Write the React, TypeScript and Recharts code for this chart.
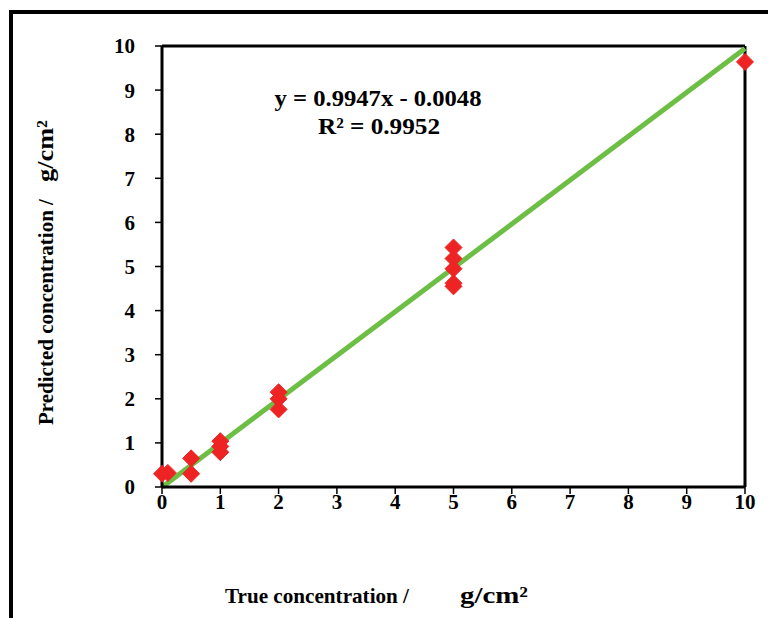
import React from 'react';
import { ComposedChart, Scatter, Line, XAxis, YAxis, ReferenceLine } from 'recharts';

const trueConc = [0, 0.1, 0.5, 0.5, 1, 1, 1, 2, 2, 2, 5, 5, 5, 5, 5, 10];
const predConc = [0.3, 0.32, 0.65, 0.3, 1.04, 0.92, 0.79, 2.15, 2.0, 1.76, 5.43, 5.18, 4.95, 4.62, 4.55, 9.64];
const fitX = [0.0048, 10];
const fitY = [0, 9.9422];
const axisTicks = [0, 1, 2, 3, 4, 5, 6, 7, 8, 9, 10];
const equationText = 'y = 0.9947x - 0.0048';
const r2Text = 'R² = 0.9952';
const xTitleMain = 'True concentration /';
const yTitleMain = 'Predicted concentration /';
const unitText = 'g/cm²';

const points = trueConc.map((x, i) => ({ x, y: predConc[i] }));
const fitLine = fitX.map((x, i) => ({ x, y: fitY[i] }));

const FONT = '"Liberation Serif", "DejaVu Serif", serif';

const Diamond = (props: any) => {
  const { cx, cy } = props;
  const r = 8.5;
  return (
    <polygon
      points={`${cx},${cy - r} ${cx + r},${cy} ${cx},${cy + r} ${cx - r},${cy}`}
      fill="#EE2424"
      stroke="#EE2424"
      strokeWidth={1}
      strokeLinejoin="round"
    />
  );
};

const tickStyle = { fill: '#000', fontSize: 21, fontWeight: 'bold', fontFamily: FONT };
const titleProps = { fontFamily: FONT, fontWeight: 'bold' as const, fontSize: 22, fill: '#000' };

export default function App() {
  return (
    <div style={{ position: 'absolute', left: 0, top: 0, width: 768, height: 618, background: '#fff', overflow: 'hidden' }}>
      <div
        style={{
          position: 'absolute',
          left: 9,
          top: 10,
          width: 768,
          height: 618,
          borderLeft: '4px solid #000',
          borderTop: '4px solid #000',
          boxSizing: 'border-box',
        }}
      />
      <div style={{ position: 'absolute', left: 0, top: 0 }}>
        <ComposedChart
          width={768}
          height={618}
          margin={{ top: 46, right: 23, left: 0, bottom: 0 }}
          style={{ fontFamily: FONT }}
        >
          <XAxis
            dataKey="x"
            type="number"
            domain={[0, 10]}
            ticks={axisTicks}
            height={131}
            axisLine={{ stroke: '#000', strokeWidth: 3 }}
            tickLine={{ stroke: '#000', strokeWidth: 1.5 }}
            tickSize={7}
            tickMargin={0}
            tick={tickStyle}
          />
          <YAxis
            dataKey="y"
            type="number"
            domain={[0, 10]}
            ticks={axisTicks}
            width={162}
            axisLine={{ stroke: '#000', strokeWidth: 3 }}
            tickLine={{ stroke: '#000', strokeWidth: 1.5 }}
            tickSize={7}
            tickMargin={20}
            tick={tickStyle}
          />
          <ReferenceLine y={10} stroke="#000" strokeWidth={3} />
          <ReferenceLine x={10} stroke="#000" strokeWidth={3} />
          <Scatter data={points} dataKey="y" shape={<Diamond />} isAnimationActive={false} />
          <Line
            data={fitLine}
            dataKey="y"
            stroke="#6DBE45"
            strokeWidth={5}
            dot={false}
            activeDot={false}
            isAnimationActive={false}
            type="linear"
          />
          <text x={378} y={106} textAnchor="middle" textLength={207} lengthAdjust="spacingAndGlyphs" {...titleProps} fontSize={23}>
            {equationText}
          </text>
          <text x={379} y={134} textAnchor="middle" textLength={122} lengthAdjust="spacingAndGlyphs" {...titleProps} fontSize={23}>
            {r2Text}
          </text>
          <text x={225} y={603} textAnchor="start" textLength={184} lengthAdjust="spacingAndGlyphs" {...titleProps}>
            {xTitleMain}
          </text>
          <text x={460} y={603} textAnchor="start" textLength={68} lengthAdjust="spacingAndGlyphs" {...titleProps} fontSize={23}>
            {unitText}
          </text>
          <g transform="translate(53, 0) rotate(-90)">
            <text x={-425} y={0} textAnchor="start" {...titleProps} fontSize={21}>
              {yTitleMain}
            </text>
            <text x={-182} y={0} textAnchor="start" textLength={62} lengthAdjust="spacingAndGlyphs" {...titleProps} fontSize={23}>
              {unitText}
            </text>
          </g>
        </ComposedChart>
      </div>
    </div>
  );
}
